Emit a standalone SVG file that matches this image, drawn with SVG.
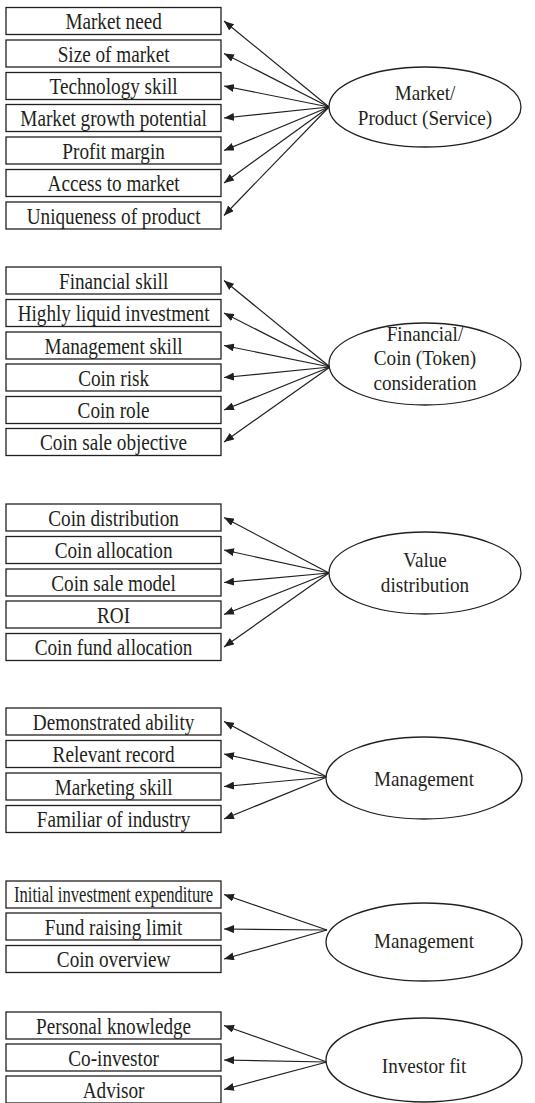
<svg xmlns="http://www.w3.org/2000/svg" width="535" height="1103" viewBox="0 0 535 1103">
<style>
rect.box{fill:#fff;stroke:#231f20;stroke-width:1.3}
ellipse.oval{fill:#fff;stroke:#231f20;stroke-width:1.3}
text{font-family:"Liberation Serif","Times New Roman",serif;font-size:24px;fill:#231f20;text-anchor:middle;transform-origin:0 0;transform-box:view-box;transform:scale(0.8,1)}
text.et{font-size:22px;transform:scale(0.87,1)}
#connectors line{stroke:#231f20;stroke-width:1.2;marker-end:url(#ah)}
</style>
<defs>
<marker id="ah" viewBox="0 0 10 8" refX="10" refY="4" markerWidth="10" markerHeight="8" markerUnits="userSpaceOnUse" orient="auto">
<path d="M0,0 L10,4 L0,8 z" fill="#231f20"/>
</marker>
</defs>
<rect width="535" height="1103" fill="#fff"/>
<g id="connectors">
<line x1="329" y1="107" x2="224" y2="21"/>
<line x1="329" y1="107" x2="224" y2="53.5"/>
<line x1="329" y1="107" x2="224" y2="86"/>
<line x1="329" y1="107" x2="224" y2="118"/>
<line x1="329" y1="107" x2="224" y2="150.5"/>
<line x1="329" y1="107" x2="224" y2="183"/>
<line x1="329" y1="107" x2="224" y2="215.5"/>
<line x1="330" y1="367" x2="224" y2="280.5"/>
<line x1="330" y1="367" x2="224" y2="313"/>
<line x1="330" y1="367" x2="224" y2="345.5"/>
<line x1="330" y1="367" x2="224" y2="377.5"/>
<line x1="330" y1="367" x2="224" y2="410"/>
<line x1="330" y1="367" x2="224" y2="442"/>
<line x1="329" y1="573" x2="224" y2="517.5"/>
<line x1="329" y1="573" x2="224" y2="550"/>
<line x1="329" y1="573" x2="224" y2="582.5"/>
<line x1="329" y1="573" x2="224" y2="614.5"/>
<line x1="329" y1="573" x2="224" y2="647"/>
<line x1="327" y1="777" x2="224" y2="721.5"/>
<line x1="327" y1="777" x2="224" y2="754"/>
<line x1="327" y1="777" x2="224" y2="786.5"/>
<line x1="327" y1="777" x2="224" y2="819"/>
<line x1="327" y1="930" x2="224" y2="894.5"/>
<line x1="327" y1="930" x2="224" y2="929"/>
<line x1="327" y1="930" x2="224" y2="959"/>
<line x1="327" y1="1062" x2="224" y2="1025.5"/>
<line x1="327" y1="1062" x2="224" y2="1060"/>
<line x1="327" y1="1062" x2="224" y2="1089.5"/>
</g>
<g id="n-market-need"><rect class="box" x="6" y="7.5" width="215" height="27"/><text x="142" y="29.5">Market need</text></g>
<g id="n-size-of-market"><rect class="box" x="6" y="40" width="215" height="27"/><text x="142" y="62">Size of market</text></g>
<g id="n-technology-skill"><rect class="box" x="6" y="72.5" width="215" height="27"/><text x="142" y="94.5">Technology skill</text></g>
<g id="n-market-growth"><rect class="box" x="6" y="104.5" width="215" height="27"/><text x="142" y="126.5">Market growth potential</text></g>
<g id="n-profit-margin"><rect class="box" x="6" y="137" width="215" height="27"/><text x="142" y="159">Profit margin</text></g>
<g id="n-access-to-market"><rect class="box" x="6" y="169.5" width="215" height="27"/><text x="142" y="191.5">Access to market</text></g>
<g id="n-uniqueness"><rect class="box" x="6" y="202" width="215" height="27"/><text x="142" y="224">Uniqueness of product</text></g>
<g id="n-market-product"><ellipse class="oval" cx="425" cy="107" rx="96" ry="40"/><text class="et" x="488.5" y="100">Market/</text><text class="et" x="488.5" y="125">Product (Service)</text></g>

<g id="n-financial-skill"><rect class="box" x="6" y="267" width="215" height="27"/><text x="142" y="289">Financial skill</text></g>
<g id="n-highly-liquid"><rect class="box" x="6" y="299.5" width="215" height="27"/><text x="142" y="321.5">Highly liquid investment</text></g>
<g id="n-management-skill"><rect class="box" x="6" y="332" width="215" height="27"/><text x="142" y="354">Management skill</text></g>
<g id="n-coin-risk"><rect class="box" x="6" y="364" width="215" height="27"/><text x="142" y="386">Coin risk</text></g>
<g id="n-coin-role"><rect class="box" x="6" y="396.5" width="215" height="27"/><text x="142" y="418.5">Coin role</text></g>
<g id="n-coin-sale-objective"><rect class="box" x="6" y="428.5" width="215" height="27"/><text x="142" y="450.5">Coin sale objective</text></g>
<g id="n-financial-coin"><ellipse class="oval" cx="425" cy="364" rx="96" ry="41"/><text class="et" x="488.5" y="341">Financial/</text><text class="et" x="488.5" y="365.5">Coin (Token)</text><text class="et" x="488.5" y="390">consideration</text></g>

<g id="n-coin-distribution"><rect class="box" x="6" y="504" width="215" height="27"/><text x="142" y="526">Coin distribution</text></g>
<g id="n-coin-allocation"><rect class="box" x="6" y="536.5" width="215" height="27"/><text x="142" y="558.5">Coin allocation</text></g>
<g id="n-coin-sale-model"><rect class="box" x="6" y="569" width="215" height="27"/><text x="142" y="591">Coin sale model</text></g>
<g id="n-roi"><rect class="box" x="6" y="601" width="215" height="27"/><text x="142" y="623">ROI</text></g>
<g id="n-coin-fund-allocation"><rect class="box" x="6" y="633.5" width="215" height="27"/><text x="142" y="655.5">Coin fund allocation</text></g>
<g id="n-value-distribution"><ellipse class="oval" cx="425" cy="573" rx="96" ry="41"/><text class="et" x="488.5" y="567">Value</text><text class="et" x="488.5" y="592">distribution</text></g>

<g id="n-demonstrated-ability"><rect class="box" x="6" y="708" width="215" height="27"/><text x="142" y="730">Demonstrated ability</text></g>
<g id="n-relevant-record"><rect class="box" x="6" y="740.5" width="215" height="27"/><text x="142" y="762.5">Relevant record</text></g>
<g id="n-marketing-skill"><rect class="box" x="6" y="773" width="215" height="27"/><text x="142" y="795">Marketing skill</text></g>
<g id="n-familiar-industry"><rect class="box" x="6" y="805.5" width="215" height="27"/><text x="142" y="827.5">Familiar of industry</text></g>
<g id="n-management-1"><ellipse class="oval" cx="424" cy="778" rx="98" ry="41"/><text class="et" x="487.4" y="786">Management</text></g>

<g id="n-initial-investment"><rect class="box" x="6" y="881" width="215" height="27"/><text x="142" y="902.5" textLength="249" lengthAdjust="spacingAndGlyphs">Initial investment expenditure</text></g>
<g id="n-fund-raising"><rect class="box" x="6" y="913" width="215" height="27"/><text x="142" y="935">Fund raising limit</text></g>
<g id="n-coin-overview"><rect class="box" x="6" y="945.5" width="215" height="27"/><text x="142" y="967.5">Coin overview</text></g>
<g id="n-management-2"><ellipse class="oval" cx="424" cy="942" rx="98" ry="39"/><text class="et" x="487.4" y="948">Management</text></g>

<g id="n-personal-knowledge"><rect class="box" x="6" y="1012" width="215" height="27"/><text x="142" y="1034">Personal knowledge</text></g>
<g id="n-co-investor"><rect class="box" x="6" y="1044" width="215" height="27"/><text x="142" y="1066">Co-investor</text></g>
<g id="n-advisor"><rect class="box" x="6" y="1076" width="215" height="27"/><text x="142" y="1098">Advisor</text></g>
<g id="n-investor-fit"><ellipse class="oval" cx="424" cy="1060" rx="98" ry="42"/><text class="et" x="487.4" y="1073">Investor fit</text></g>
</svg>
